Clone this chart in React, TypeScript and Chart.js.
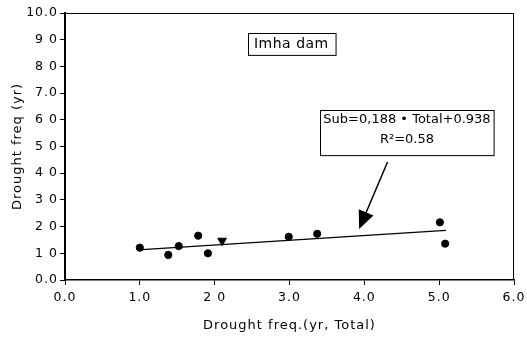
import React, { useEffect, useRef } from "react";
import { Chart, registerables } from "chart.js";

Chart.register(...registerables);

// ---- data ----
const totalFreq = [1.0, 1.38, 1.52, 1.78, 1.91, 2.1, 2.99, 3.37, 5.01, 5.08];
const subFreq = [1.21, 0.94, 1.27, 1.66, 1.0, 1.47, 1.62, 1.73, 2.16, 1.36];
const markerKinds = ["circle", "circle", "circle", "circle", "circle", "triangle", "circle", "circle", "circle", "circle"];
const fitLineX = [1.03, 5.09];
const fitLineY = [1.14, 1.86];
const yTickLabels = ["0.0", "1 0", "2 0", "3 0", "4 0", "5 0", "6 0", "7.0", "8 0", "9 0", "10.0"];
const xTickLabels = ["0.0", "1.0", "2 0", "3.0", "4.0", "5.0", "6.0"];
const titleText = "Imha dam";
const equationLines = ["Sub=0,188 \u2022 Total+0.938", "R\u00b2=0.58"];
const xTitle = "Drought freq.(yr, Total)";
const yTitle = "Drought freq (yr)";

const FONT = "'DejaVu Sans', 'Liberation Sans', sans-serif";

const spacingPlugin = {
  id: "spacing",
  beforeUpdate(chart: any) {
    chart.ctx.letterSpacing = "1px";
  },
  beforeDraw(chart: any) {
    chart.ctx.letterSpacing = "1px";
  },
};

const annotationPlugin = {
  id: "annotations",
  afterDraw(chart: any) {
    const { ctx, chartArea, scales } = chart;
    const xs = scales.x;
    const ys = scales.y;
    const px = (v: number) => xs.getPixelForValue(v);
    const py = (v: number) => ys.getPixelForValue(v);
    ctx.save();
    ctx.strokeStyle = "#000";
    ctx.fillStyle = "#000";
    // frame: top and right
    ctx.lineWidth = 1;
    ctx.beginPath();
    ctx.moveTo(chartArea.left, Math.round(chartArea.top) + 0.5);
    ctx.lineTo(Math.round(chartArea.right) - 0.5, Math.round(chartArea.top) + 0.5);
    ctx.lineTo(Math.round(chartArea.right) - 0.5, chartArea.bottom);
    ctx.stroke();

    // "Imha dam" box
    const b1 = { x0: px(2.44), x1: px(3.61), y0: py(9.25), y1: py(8.43) };
    ctx.lineWidth = 1;
    ctx.strokeRect(Math.round(b1.x0) + 0.5, Math.round(b1.y0) + 0.5, b1.x1 - b1.x0, b1.y1 - b1.y0);
    ctx.font = `14px ${FONT}`;
    ctx.letterSpacing = "0.5px";
    ctx.textAlign = "center";
    ctx.textBaseline = "middle";
    ctx.fillText(titleText, (b1.x0 + b1.x1) / 2, (b1.y0 + b1.y1) / 2);

    // equation box
    const b2 = { x0: px(3.41), x1: px(5.73), y0: py(6.37), y1: py(4.68) };
    ctx.strokeRect(Math.round(b2.x0) + 0.5, Math.round(b2.y0) + 0.5, b2.x1 - b2.x0, b2.y1 - b2.y0);
    ctx.font = `13px ${FONT}`;
    ctx.letterSpacing = "0px";
    const cx = (b2.x0 + b2.x1) / 2;
    ctx.fillText(equationLines[0], cx, py(5.99));
    ctx.fillText(equationLines[1], cx, py(5.24));

    // arrow
    const ax0 = px(4.31), ay0 = py(4.42), ax1 = px(3.93), ay1 = py(1.91);
    const ang = Math.atan2(ay1 - ay0, ax1 - ax0);
    const headLen = 18, headW = 8;
    const bx = ax1 - headLen * Math.cos(ang);
    const by = ay1 - headLen * Math.sin(ang);
    ctx.lineWidth = 1.5;
    ctx.beginPath();
    ctx.moveTo(ax0, ay0);
    ctx.lineTo(bx, by);
    ctx.stroke();
    ctx.beginPath();
    ctx.moveTo(ax1, ay1);
    ctx.lineTo(bx + headW * Math.sin(ang), by - headW * Math.cos(ang));
    ctx.lineTo(bx - headW * Math.sin(ang), by + headW * Math.cos(ang));
    ctx.closePath();
    ctx.fill();
    ctx.restore();
  },
};

export default function App() {
  const ref = useRef<HTMLCanvasElement | null>(null);
  useEffect(() => {
    if (!ref.current) return;
    const chart = new Chart(ref.current, {
      type: "scatter",
      data: {
        datasets: [
          {
            label: "fit",
            data: fitLineX.map((x, i) => ({ x, y: fitLineY[i] })),
            showLine: true,
            borderColor: "#000",
            borderWidth: 1.2,
            pointRadius: 0,
          },
          {
            label: "obs",
            data: totalFreq.map((x, i) => ({ x, y: subFreq[i] })),
            backgroundColor: "#000",
            borderColor: "#000",
            pointStyle: markerKinds as any,
            pointRotation: markerKinds.map((k) => (k === "triangle" ? 180 : 0)),
            pointRadius: markerKinds.map((k) => (k === "triangle" ? 5 : 3.6)),
          },
        ],
      },
      options: {
        animation: false,
        responsive: true,
        maintainAspectRatio: false,
        layout: { padding: { left: 0, top: 13, right: 13, bottom: 0 } },
        plugins: { legend: { display: false }, tooltip: { enabled: false } },
        scales: {
          x: {
            type: "linear",
            min: 0,
            max: 6,
            afterFit: (s: any) => {
              s.height = 59;
              s.paddingLeft = 0;
              s.paddingRight = 0;
            },
            ticks: {
              stepSize: 1,
              color: "#000",
              font: { family: FONT, size: 12.5 },
              padding: 5,
              maxRotation: 0,
              callback: (v: any) => xTickLabels[Math.round(Number(v))] ?? "",
            },
            grid: { drawOnChartArea: false, drawTicks: true, tickLength: 5, color: "#000" },
            border: { color: "#000", width: 1.5 },
            title: {
              display: true,
              text: xTitle,
              color: "#000",
              font: { family: FONT, size: 13 },
              padding: { top: 0, bottom: 6 },
            },
          },
          y: {
            type: "linear",
            min: 0,
            max: 10,
            afterFit: (s: any) => {
              s.width = 65;
              s.paddingTop = 0;
              s.paddingBottom = 0;
            },
            ticks: {
              stepSize: 1,
              color: "#000",
              font: { family: FONT, size: 12.5 },
              padding: 2,
              callback: (v: any) => yTickLabels[Math.round(Number(v))] ?? "",
            },
            grid: { drawOnChartArea: false, drawTicks: true, tickLength: 5, color: "#000" },
            border: { color: "#000", width: 2 },
            title: {
              display: true,
              text: yTitle,
              color: "#000",
              font: { family: FONT, size: 13 },
              padding: { top: 10, bottom: 0 },
            },
          },
        },
      },
      plugins: [spacingPlugin, annotationPlugin],
    });
    return () => chart.destroy();
  }, []);
  return (
    <div style={{ position: "fixed", left: 0, top: 0, width: 527, height: 339, background: "#fff" }}>
      <canvas ref={ref} />
    </div>
  );
}
